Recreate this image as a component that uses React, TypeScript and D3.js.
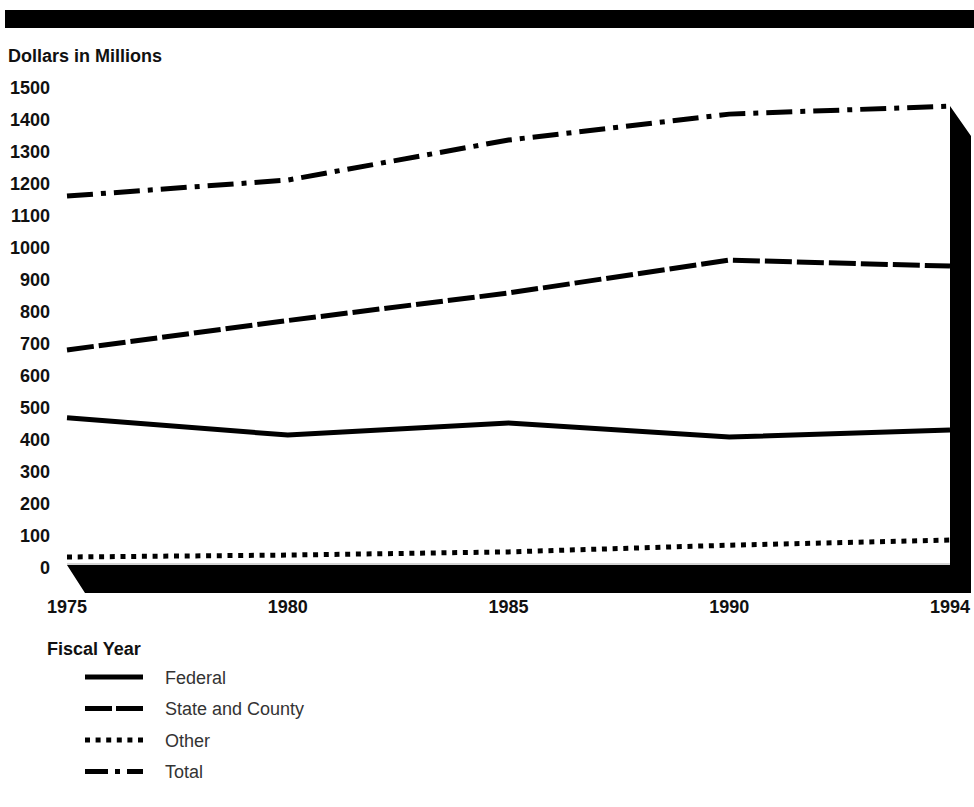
import React from "react";
import * as d3 from "d3";

const years = ["1975", "1980", "1985", "1990", "1994"];
const federal = [460, 406, 444, 400, 422];
const stateCounty = [672, 764, 850, 953, 934];
const other = [25, 31, 41, 62, 78];
const total = [1153, 1203, 1328, 1409, 1434];
const yTicks = [0, 100, 200, 300, 400, 500, 600, 700, 800, 900, 1000, 1100, 1200, 1300, 1400, 1500];

const series = [
  { name: "Federal", values: federal, dash: "none", legendDash: "none" },
  { name: "State and County", values: stateCounty, dash: "27 5", legendDash: "27 4" },
  { name: "Other", values: other, dash: "5 5.7", legendDash: "5 5.6" },
  { name: "Total", values: total, dash: "26 8 5 8", legendDash: "23 7 5 7" },
];

const W = 974;
const H = 807;

export default function App() {
  const x = d3.scalePoint<string>().domain(years).range([67, 950]);
  const y = d3.scaleLinear().domain([0, 1500]).range([565, 85]);
  const line = d3
    .line<number>()
    .x((_, i) => x(years[i]) as number)
    .y((d) => y(d));

  const x0 = x(years[0]) as number;
  const x1 = x(years[years.length - 1]) as number;
  const y0 = y(0);
  const yTop = y(total[total.length - 1]);
  const dx = 21;
  const dy = 28;
  const floor = [
    [x0, y0],
    [x1, y0],
    [x1, yTop],
    [x1 + dx, yTop + 30],
    [x1 + dx, y0 + dy],
    [x0 + 18, y0 + dy],
  ];

  const bold = { fontFamily: "Liberation Sans, Arial, sans-serif", fontWeight: 700, fontSize: 18 };

  return (
    <svg
      width={W}
      height={H}
      style={{ position: "absolute", left: 0, top: 0, background: "#fff" }}
    >
      <rect x={5} y={10} width={W - 5} height={18} fill="#000" />
      <text x={8} y={61.5} {...bold} fill="#111">
        Dollars in Millions
      </text>
      {yTicks.map((t) => (
        <text key={t} x={50} y={y(t) + 8.5} textAnchor="end" {...bold} fill="#111">
          {t}
        </text>
      ))}
      <polygon points={floor.map((p) => p.join(",")).join(" ")} fill="#000" />
      <line x1={x0} x2={x1} y1={y0 - 1} y2={y0 - 1} stroke="#aaa" strokeWidth={1} />
      {series.map((s) => (
        <path
          key={s.name}
          d={line(s.values) as string}
          fill="none"
          stroke="#000"
          strokeWidth={5}
          strokeDasharray={s.dash}
          strokeLinejoin="miter"
          strokeLinecap="butt"
        />
      ))}
      {years.map((yr) => (
        <text key={yr} x={x(yr) as number} y={612.5} textAnchor="middle" {...bold} fill="#111">
          {yr}
        </text>
      ))}
      <text x={47} y={655} {...bold} fill="#111">
        Fiscal Year
      </text>
      {series.map((s, i) => {
        const ly = 677 + i * 31.5;
        return (
          <g key={s.name}>
            <line
              x1={85}
              x2={143}
              y1={ly}
              y2={ly}
              stroke="#000"
              strokeWidth={5}
              strokeDasharray={s.legendDash}
            />
            <text
              x={165}
              y={ly + 6.5}
              fontFamily="Liberation Sans, Arial, sans-serif"
              fontSize={18}
              fill="#333"
            >
              {s.name}
            </text>
          </g>
        );
      })}
    </svg>
  );
}
